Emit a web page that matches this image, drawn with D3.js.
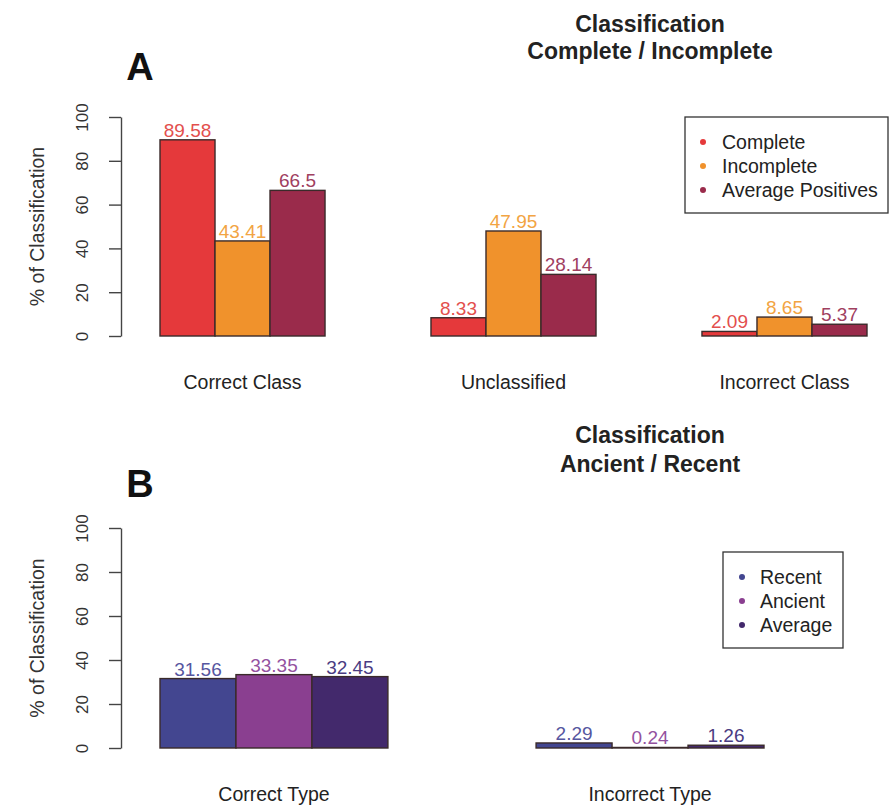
<!DOCTYPE html>
<html>
<head>
<meta charset="utf-8">
<script src="https://cdn.jsdelivr.net/npm/d3@7"></script>
<style>
  html, body { margin: 0; padding: 0; background: #fff; }
  svg { display: block; font-family: "Liberation Sans", Arial, Helvetica, sans-serif; }
</style>
</head>
<body>
<svg id="chart" width="890" height="805"></svg>
<script>
// ---- Data ----
const categoriesA = ["Correct Class", "Unclassified", "Incorrect Class"];
const seriesA = ["Complete", "Incomplete", "Average Positives"];
const completeValues = [89.58, 8.33, 2.09];
const incompleteValues = [43.41, 47.95, 8.65];
const averagePositiveValues = [66.5, 28.14, 5.37];

const categoriesB = ["Correct Type", "Incorrect Type"];
const seriesB = ["Recent", "Ancient", "Average"];
const recentValues = [31.56, 2.29];
const ancientValues = [33.35, 0.24];
const averageValues = [32.45, 1.26];

const yTicks = [0, 20, 40, 60, 80, 100];

// ---- Styles ----
const colorsA = ["#e5393b", "#f0922c", "#9a2b4b"];
const labelColorsA = ["#e34f4d", "#f2a443", "#a0405f"];
const colorsB = ["#434690", "#8a3f90", "#43296c"];
const labelColorsB = ["#5656a0", "#9452a0", "#4a3c82"];

const svg = d3.select("#chart");

function panel(cfg) {
  const g = svg.append("g");
  const y = d3.scaleLinear().domain([0, 100]).range([cfg.y0, cfg.y100]);
  const x0 = d3.scaleBand().domain(cfg.categories).range(cfg.xRange).paddingInner(cfg.padInner).paddingOuter(0);
  const x1 = d3.scaleBand().domain(cfg.series).range([0, x0.bandwidth()]).padding(0);

  // axis
  const axis = d3.axisLeft(y).tickValues(yTicks).tickSize(12).tickSizeOuter(0);
  const ag = g.append("g").attr("transform", `translate(${cfg.axisX},0)`).call(axis);
  ag.select(".domain").attr("stroke", "#444").attr("stroke-width", 1.4);
  ag.selectAll(".tick line").attr("stroke", "#444").attr("stroke-width", 1.4);
  ag.selectAll(".tick text")
    .attr("fill", "#333").attr("font-size", 17)
    .attr("transform", "rotate(-90)")
    .attr("x", 0).attr("y", -39).attr("dy", "0.35em")
    .attr("text-anchor", "middle");

  g.append("text")
    .attr("transform", `translate(${cfg.ylabelX},${(cfg.y0 + cfg.y100) / 2}) rotate(-90)`)
    .attr("text-anchor", "middle").attr("dy", "0.35em")
    .attr("font-size", 19.5).attr("fill", "#333")
    .text("% of Classification");

  // bars
  const rows = cfg.categories.map((c, i) => ({ cat: c, vals: cfg.values.map(v => v[i]) }));
  const grp = g.selectAll(".grp").data(rows).join("g")
    .attr("transform", d => `translate(${x0(d.cat)},0)`);
  grp.selectAll("rect").data(d => d.vals.map((v, j) => ({ s: cfg.series[j], v, j }))).join("rect")
    .attr("x", d => x1(d.s)).attr("width", x1.bandwidth())
    .attr("y", d => y(d.v)).attr("height", d => y(0) - y(d.v))
    .attr("fill", d => cfg.colors[d.j])
    .attr("stroke", "#3a2a2a").attr("stroke-width", 1.4);
  grp.selectAll("text.val").data(d => d.vals.map((v, j) => ({ s: cfg.series[j], v, j }))).join("text")
    .attr("class", "val")
    .attr("x", d => x1(d.s) + x1.bandwidth() / 2)
    .attr("y", d => y(d.v) - 3)
    .attr("text-anchor", "middle").attr("font-size", 19)
    .attr("fill", d => cfg.labelColors[d.j])
    .text(d => d.v);

  // category labels
  g.selectAll(".cat").data(cfg.categories).join("text")
    .attr("x", d => x0(d) + x0.bandwidth() / 2).attr("y", cfg.catY)
    .attr("text-anchor", "middle").attr("font-size", 19.5).attr("fill", "#222")
    .text(d => d);

  // title
  cfg.title.forEach((t, i) => {
    g.append("text").attr("x", cfg.titleX).attr("y", cfg.titleY + i * cfg.titleGap)
      .attr("text-anchor", "middle").attr("font-size", 23).attr("font-weight", "bold").attr("fill", "#222")
      .text(t);
  });
  g.append("text").attr("x", cfg.letterX).attr("y", cfg.letterY)
    .attr("text-anchor", "middle").attr("font-size", 38).attr("font-weight", "bold").attr("fill", "#111")
    .text(cfg.letter);

  // legend
  const L = cfg.legend;
  g.append("rect").attr("x", L.x).attr("y", L.y).attr("width", L.w).attr("height", L.h)
    .attr("fill", "#fff").attr("stroke", "#333").attr("stroke-width", 1.3);
  cfg.series.forEach((s, j) => {
    g.append("circle").attr("cx", L.dotX).attr("cy", L.firstY + j * 24).attr("r", 3).attr("fill", cfg.colors[j]);
    g.append("text").attr("x", L.textX).attr("y", L.firstY + j * 24).attr("dy", "0.35em")
      .attr("font-size", 19.5).attr("fill", "#222").text(s);
  });
}

panel({
  categories: categoriesA, series: seriesA,
  values: [completeValues, incompleteValues, averagePositiveValues],
  colors: colorsA, labelColors: labelColorsA,
  y0: 336, y100: 117, axisX: 121, ylabelX: 37,
  xRange: [160, 867], padInner: 0.391,
  catY: 389,
  title: ["Classification", "Complete / Incomplete"], titleX: 650, titleY: 32, titleGap: 27,
  letter: "A", letterX: 140, letterY: 80,
  legend: { x: 685, y: 117, w: 203, h: 96, dotX: 703, textX: 722, firstY: 142 }
});

panel({
  categories: categoriesB, series: seriesB,
  values: [recentValues, ancientValues, averageValues],
  colors: colorsB, labelColors: labelColorsB,
  y0: 748, y100: 528, axisX: 121, ylabelX: 37,
  xRange: [160, 764], padInner: 0.394,
  catY: 801,
  title: ["Classification", "Ancient / Recent"], titleX: 650, titleY: 443, titleGap: 29,
  letter: "B", letterX: 140, letterY: 497,
  legend: { x: 723, y: 552, w: 120, h: 96, dotX: 742, textX: 760, firstY: 577 }
});
</script>
</body>
</html>
